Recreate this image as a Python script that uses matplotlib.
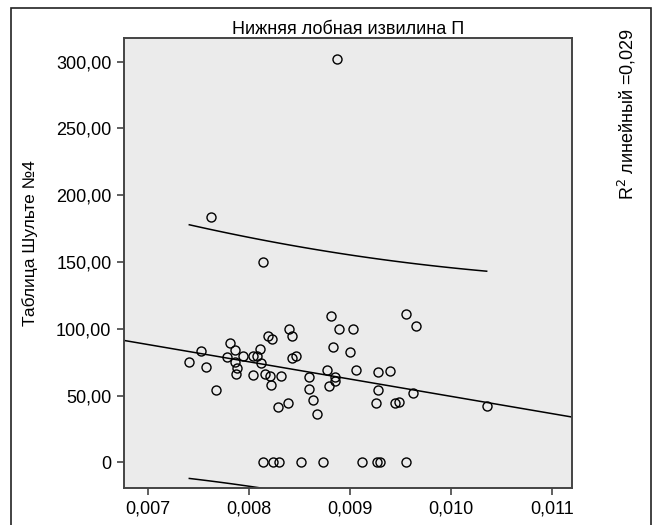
import numpy as np
import matplotlib
matplotlib.use('Agg')
import matplotlib.pyplot as plt
from matplotlib.patches import Rectangle

# data
x_vals = [0.008869, 0.007620, 0.008140, 0.007409, 0.007527, 0.007574, 0.007673,
          0.007781, 0.007814, 0.007858, 0.007858, 0.007877, 0.007867, 0.007943,
          0.008039, 0.008081, 0.008111, 0.008118, 0.008042, 0.008160, 0.008204,
          0.008214, 0.008190, 0.008224, 0.008313, 0.008395, 0.008424, 0.008421,
          0.008461, 0.008283, 0.008382, 0.008592, 0.008595, 0.008635, 0.008675,
          0.008774, 0.008790, 0.008847, 0.008850, 0.008807, 0.008830, 0.008892,
          0.009031, 0.008998, 0.009054, 0.009272, 0.009394, 0.009272, 0.009252,
          0.009443, 0.009486, 0.009624, 0.009555, 0.009648, 0.010350,
          0.008140, 0.008236, 0.008293, 0.008510, 0.008731, 0.009117, 0.009262,
          0.009296, 0.009555]
y_vals = [301.8, 183.5, 150.3, 75.0, 83.5, 71.3, 54.3,
          79.2, 89.7, 84.1, 75.0, 71.0, 66.0, 79.5,
          79.5, 79.5, 84.7, 74.7, 65.5, 66.5, 64.5,
          58.0, 94.7, 92.4, 64.5, 99.9, 94.7, 78.2,
          79.7, 41.3, 44.3, 64.2, 55.2, 46.6, 36.1,
          69.5, 57.3, 63.8, 61.0, 109.7, 86.5, 99.9,
          99.7, 82.9, 69.0, 67.5, 68.7, 54.3, 44.3,
          44.3, 45.3, 52.2, 110.9, 101.9, 42.3,
          0, 0, 0, 0, 0, 0, 0,
          0, 0]

x_ticks = [0.007, 0.008, 0.009, 0.010, 0.011]
x_labels = ['0,007', '0,008', '0,009', '0,010', '0,011']
y_ticks = [0, 50, 100, 150, 200, 250, 300]
y_labels = ['0', '50,00', '100,00', '150,00', '200,00', '250,00', '300,00']

title = 'Нижняя лобная извилина П'
y_title = 'Таблица Шульте №4'
r2_text = 'R$^2$ линейный =0,029'

x = np.array(x_vals)
y = np.array(y_vals)
n = len(x)

# linear fit and 95% individual prediction band
slope, icpt = np.polyfit(x, y, 1)
resid = y - (icpt + slope * x)
s = np.sqrt(np.sum(resid ** 2) / (n - 2))
sxx = np.sum((x - x.mean()) ** 2)
t_crit = 1.999

fig = plt.figure(figsize=(6.6, 5.25), dpi=100)
plt.rcParams['font.family'] = ['Liberation Sans', 'DejaVu Sans']

ax = fig.add_axes([124 / 660, 1 - 488 / 525, 448 / 660, 450 / 525])
ax.set_facecolor('#ebebeb')
ax.set_xlim(0.006763, 0.011194)
ax.set_ylim(-19.1, 317.7)

xf = np.linspace(0.006763, 0.011194, 50)
ax.plot(xf, icpt + slope * xf, color='black', lw=1.1)

xb = np.linspace(x.min(), x.max(), 100)
half = t_crit * s * np.sqrt(1 + 1 / n + (xb - x.mean()) ** 2 / sxx)
ax.plot(xb, icpt + slope * xb + half, color='black', lw=1.1)
ax.plot(xb, icpt + slope * xb - half, color='black', lw=1.1)

ax.plot(x, y, 'o', mfc='none', mec='black', ms=6.5, mew=1.0)

ax.set_xticks(x_ticks)
ax.set_xticklabels(x_labels)
ax.set_yticks(y_ticks)
ax.set_yticklabels(y_labels)
ax.tick_params(length=5, width=1.2, color='#444444', labelsize=13, pad=4)
for sp in ax.spines.values():
    sp.set_color('#444444')
    sp.set_linewidth(1.4)

ax.set_title(title, fontsize=13, pad=3)
fig.text(30 / 660, 1 - 243 / 525, y_title, rotation=90, ha='center', va='center', fontsize=12.5)
fig.text(627 / 660, 1 - 28 / 525, r2_text, rotation=90, ha='center', va='top', fontsize=13)

# outer frame
fig.patches.append(Rectangle((11 / 660, -0.05), 640 / 660, 1.05 - 8 / 525,
                             transform=fig.transFigure, fill=False,
                             edgecolor='#222222', lw=1.2))

fig.savefig('out.png', dpi=100)
